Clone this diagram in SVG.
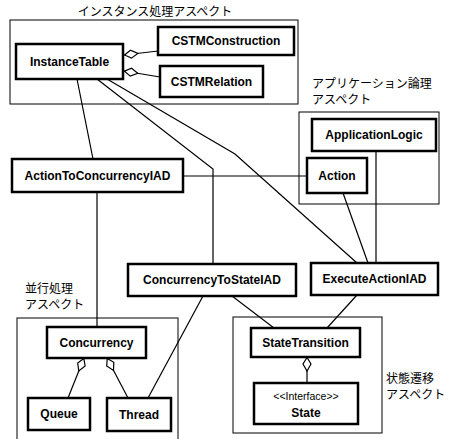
<svg xmlns="http://www.w3.org/2000/svg" width="450" height="439" viewBox="0 0 450 439">
<style>
.frame{fill:none;stroke:#000;stroke-width:1}
.box{fill:#fff;stroke:#000;stroke-width:2.5}
.t{font-family:"Liberation Sans",Arial,sans-serif;font-size:12px;font-weight:bold;text-anchor:middle;fill:#000}
.s{font-family:"Liberation Sans",Arial,sans-serif;font-size:10.5px;text-anchor:middle;fill:#000}
.j{font-family:"Noto Sans CJK JP",sans-serif;font-size:12px;fill:#000}
.c{fill:none;stroke:#000;stroke-width:1.2}
.agg{marker-start:url(#dia)}
</style>
<defs>
<marker id="dia" markerUnits="userSpaceOnUse" markerWidth="16" markerHeight="12" refX="0" refY="5" orient="auto" viewBox="0 0 16 10">
<path d="M0.5,5 L7,1 L14,5 L7,9 Z" fill="#fff" stroke="#000" stroke-width="1.2"/>
</marker>
</defs>
<rect width="450" height="439" fill="#fff"/>
<g id="packages">
<rect class="frame" x="10" y="20" width="288" height="84"/>
<text class="j" x="155" y="16" text-anchor="middle" font-size="12.5">インスタンス処理アスペクト</text>
<rect class="frame" x="299" y="112" width="140" height="92"/>
<text class="j" x="312" y="88">アプリケーション論理</text>
<text class="j" x="312" y="104">アスペクト</text>
<rect class="frame" x="17" y="318" width="161" height="130"/>
<text class="j" x="25" y="293">並行処理</text>
<text class="j" x="25" y="309">アスペクト</text>
<rect class="frame" x="233" y="317" width="149" height="116"/>
<text class="j" x="386" y="383">状態遷移</text>
<text class="j" x="386" y="399">アスペクト</text>
</g>
<g id="connectors">
<line class="c" x1="77" y1="79" x2="93" y2="159"/>
<polyline class="c" points="97,79 213,169 213,264"/>
<polyline class="c" points="107,79 235,154 357,263"/>
<line class="c" x1="183" y1="176" x2="307" y2="176"/>
<line class="c" x1="343" y1="193" x2="368" y2="263"/>
<line class="c" x1="376" y1="151" x2="376" y2="263"/>
<line class="c" x1="97" y1="192" x2="97" y2="327"/>
<line class="c" x1="203" y1="296" x2="148" y2="398"/>
<line class="c" x1="232" y1="296" x2="274" y2="328"/>
<line class="c" x1="357" y1="295" x2="327" y2="328"/>
<line class="c agg" x1="124" y1="55" x2="158" y2="51"/>
<line class="c agg" x1="124" y1="71" x2="160" y2="77"/>
<line class="c agg" x1="84" y1="358" x2="68" y2="398"/>
<line class="c agg" x1="107" y1="358" x2="128" y2="398"/>
<line class="c agg" x1="307" y1="357" x2="307" y2="383"/>
</g>
<g id="InstanceTable"><rect class="box" x="16" y="44" width="107" height="35"/><text class="t" x="69.5" y="66">InstanceTable</text></g>
<g id="CSTMConstruction"><rect class="box" x="158" y="27" width="136" height="28"/><text class="t" x="226" y="45">CSTMConstruction</text></g>
<g id="CSTMRelation"><rect class="box" x="160" y="66" width="103" height="31"/><text class="t" x="211.5" y="86">CSTMRelation</text></g>
<g id="ApplicationLogic"><rect class="box" x="312" y="119" width="124" height="32"/><text class="t" x="374" y="139">ApplicationLogic</text></g>
<g id="Action"><rect class="box" x="307" y="158" width="60" height="35"/><text class="t" x="337" y="180">Action</text></g>
<g id="ActionToConcurrencyIAD"><rect class="box" x="12" y="159" width="171" height="33"/><text class="t" x="97.5" y="180">ActionToConcurrencyIAD</text></g>
<g id="ConcurrencyToStateIAD"><rect class="box" x="128" y="264" width="168" height="32"/><text class="t" x="212" y="284">ConcurrencyToStateIAD</text></g>
<g id="ExecuteActionIAD"><rect class="box" x="311" y="263" width="127" height="32"/><text class="t" x="374.5" y="283">ExecuteActionIAD</text></g>
<g id="Concurrency"><rect class="box" x="47" y="327" width="99" height="31"/><text class="t" x="96.5" y="347">Concurrency</text></g>
<g id="Queue"><rect class="box" x="28" y="398" width="62" height="32"/><text class="t" x="59" y="418">Queue</text></g>
<g id="Thread"><rect class="box" x="107" y="398" width="64" height="33"/><text class="t" x="139" y="419">Thread</text></g>
<g id="StateTransition"><rect class="box" x="251" y="328" width="109" height="29"/><text class="t" x="305.5" y="347">StateTransition</text></g>
<g id="State"><rect class="box" x="254" y="383" width="104" height="41"/><text class="s" x="306" y="400">&lt;&lt;Interface&gt;&gt;</text><text class="t" x="306" y="417">State</text></g>
</svg>
